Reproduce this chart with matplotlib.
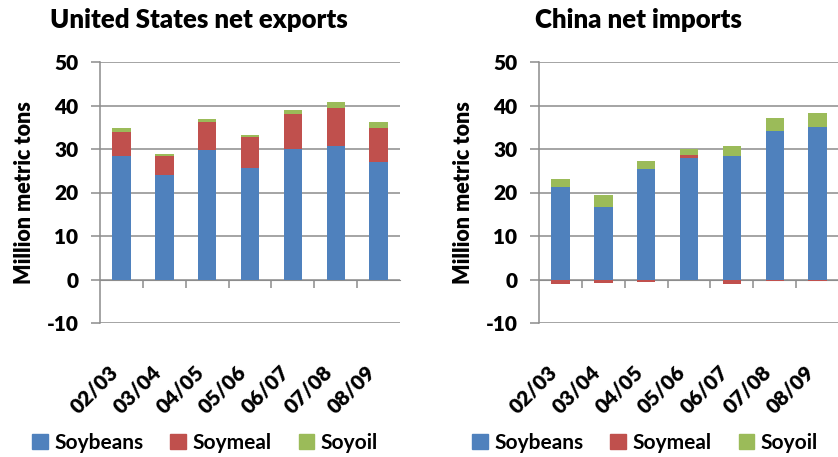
import numpy as np
import matplotlib
matplotlib.use("Agg")
import matplotlib.pyplot as plt
from matplotlib.patches import Patch

plt.rcParams['font.family'] = ['Lato', 'DejaVu Sans']
plt.rcParams['axes.unicode_minus'] = False

# data (million metric tons)
years = ['02/03', '03/04', '04/05', '05/06', '06/07', '07/08', '08/09']
series = ['Soybeans', 'Soymeal', 'Soyoil']

us_soybeans = [28.4, 24.0, 29.7, 25.7, 30.1, 30.8, 27.0]
us_soymeal = [5.4, 4.4, 6.6, 7.0, 7.9, 8.6, 7.9]
us_soyoil = [1.0, 0.4, 0.5, 0.5, 1.0, 1.4, 1.2]

cn_soybeans = [21.3, 16.7, 25.4, 28.0, 28.4, 34.1, 35.1]
cn_soymeal = [-1.0, -0.7, -0.6, 0.6, -1.0, -0.4, -0.4]
cn_soyoil = [1.7, 2.8, 1.8, 1.4, 2.3, 3.0, 3.2]

colors = ['#4F81BD', '#C0504D', '#9BBB59']
grid_col = '#8C8C8C'

W, H = 838, 457
fig = plt.figure(figsize=(W / 100, H / 100), dpi=100)


def draw_panel(left_px, title, title_x, beans, meal, oil):
    ax = fig.add_axes([left_px / W, 1 - 323 / H, 300 / W, 261 / H])
    x = np.arange(len(years))
    beans = np.array(beans)
    meal = np.array(meal)
    oil = np.array(oil)

    # stack positives upward, negatives downward from zero
    meal_bottom = np.where(meal >= 0, beans, 0)
    oil_bottom = beans + np.clip(meal, 0, None)
    w = 0.43
    ax.bar(x, beans, w, color=colors[0], zorder=3)
    ax.bar(x, meal, w, bottom=meal_bottom, color=colors[1], zorder=3)
    ax.bar(x, oil, w, bottom=oil_bottom, color=colors[2], zorder=3)

    ax.set_xlim(-0.5, len(years) - 0.5)
    ax.set_ylim(-10, 50)
    ax.set_yticks(range(-10, 51, 10))
    ax.yaxis.grid(True, color=grid_col, lw=1.1, zorder=0)
    for s in ['top', 'right', 'bottom']:
        ax.spines[s].set_visible(False)
    ax.spines['left'].set_color(grid_col)
    ax.spines['left'].set_linewidth(1.1)
    ax.tick_params(axis='y', length=6.5, width=1.1, color=grid_col, pad=9,
                   labelsize=15)
    for lab in ax.get_yticklabels():
        lab.set_fontweight('heavy')

    ax.set_xticks(x)
    ax.set_xticklabels(years, rotation=45, ha='right', va='top',
                       fontsize=15, fontweight='heavy')
    ax.tick_params(axis='x', length=0, pad=28)

    # category tick marks hang below the zero line
    sec = ax.secondary_xaxis(1 / 6)
    sec.set_xticks(np.arange(0.5, len(years) - 0.5, 1.0))
    sec.set_xticklabels([])
    sec.spines['bottom'].set_color(grid_col)
    sec.tick_params(length=6, width=1.1, color=grid_col)

    ax.set_ylabel('Million metric tons', fontsize=15.5, fontweight='heavy',
                  labelpad=8)

    fig.text(title_x / W, 1 - 28 / H, title, fontsize=18.5, fontweight='heavy',
             va='baseline', ha='left')
    return ax


ax1 = draw_panel(100, 'United States net exports', 50,
                 us_soybeans, us_soymeal, us_soyoil)
ax2 = draw_panel(539, 'China net imports', 535,
                 cn_soybeans, cn_soymeal, cn_soyoil)

handles = [Patch(color=c) for c in colors]
for cx in [205, 645]:
    fig.legend(handles, series, loc='center', bbox_to_anchor=(cx / W, 1 - 443 / H),
               ncol=3, frameon=False, prop={'size': 15, 'weight': 'bold'},
               handlelength=0.75, handleheight=0.75, handletextpad=0.3,
               columnspacing=1.3)

fig.savefig('out.png', dpi=100)
